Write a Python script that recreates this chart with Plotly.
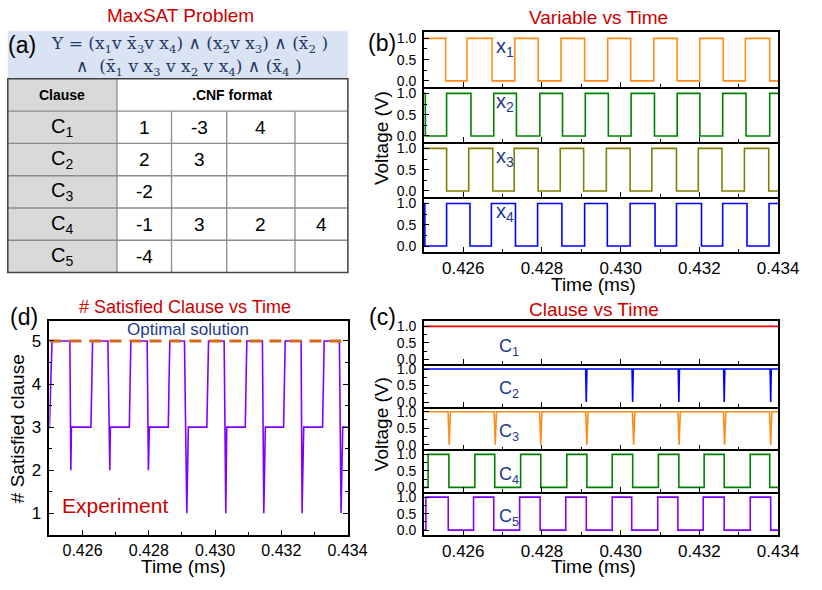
import plotly.graph_objects as go

W, H = 822, 590
T_RANGE = [0.425, 0.434]

# ---------------- data ----------------
# panel (b): variable waveforms, initial level + transition times (ms)
x1_start = 1
x1_edges = [0.425552, 0.426097, 0.426733, 0.427309, 0.427903, 0.428483, 0.429084, 0.429671,
            0.430255, 0.430842, 0.431436, 0.432012, 0.432607, 0.433168, 0.433787]
x2_start = 1
x2_edges = [0.425037, 0.425577, 0.426196, 0.426775, 0.427351, 0.427946, 0.428522, 0.429101,
            0.429686, 0.430265, 0.430859, 0.431436, 0.432012, 0.432592, 0.433186, 0.433787]
x3_start = 1
x3_edges = [0.425577, 0.426139, 0.426750, 0.427295, 0.427903, 0.428465, 0.429059, 0.429636,
            0.430240, 0.430792, 0.431418, 0.431973, 0.432574, 0.433144, 0.433762]
x4_start = 1
x4_edges = [0.425025, 0.425577, 0.426171, 0.426715, 0.427327, 0.427889, 0.428507, 0.429084,
            0.429661, 0.430240, 0.430874, 0.431418, 0.432054, 0.432592, 0.433210, 0.433770]

# panel (c): clause waveforms
c1_level = 1
c2_dips = [0.429126, 0.430304, 0.431478, 0.432631, 0.433812]
c3_dips = [0.425644, 0.426814, 0.427970, 0.429141, 0.430329, 0.431485, 0.432641, 0.433812]
c4_start = 0
c4_edges = [0.425106, 0.425636, 0.426295, 0.426800, 0.427458, 0.427970, 0.428631, 0.429141,
            0.429785, 0.430305, 0.430958, 0.431478, 0.432121, 0.432631, 0.433292, 0.433787]
c5_start = 0
c5_edges = [0.425050, 0.425619, 0.426262, 0.426775, 0.427433, 0.427953, 0.428606, 0.429126,
            0.429785, 0.430280, 0.430941, 0.431453, 0.432097, 0.432631, 0.433292, 0.433812]

# panel (d): number of satisfied clauses
t_sat = [0.42500, 0.42504, 0.42508,
         0.425618, 0.425647, 0.425665, 0.426253, 0.426280, 0.426303,
         0.426765, 0.426824, 0.426841, 0.427412, 0.427435, 0.427459,
         0.427950, 0.427988, 0.428018, 0.428588, 0.428610, 0.428635,
         0.429076, 0.429147, 0.429194, 0.429753, 0.429778, 0.429803,
         0.430274, 0.430324, 0.430353, 0.430912, 0.430935, 0.430959,
         0.431429, 0.431471, 0.431518, 0.432068, 0.432093, 0.432118,
         0.432597, 0.432626, 0.432676, 0.433244, 0.433270, 0.433294,
         0.433753, 0.433803, 0.433853, 0.434000]
n_sat = [3, 4, 5,
         5, 2, 3, 3, 4, 5,
         5, 2, 3, 3, 4, 5,
         5, 2, 3, 3, 4, 5,
         5, 1, 3, 3, 4, 5,
         5, 1, 3, 3, 4, 5,
         5, 1, 3, 3, 4, 5,
         5, 1, 3, 3, 4, 5,
         5, 1, 3, 3]
optimal_value = 5

# panel (a): table
clause_ids = [1, 2, 3, 4, 5]
cnf_rows = [[1, -3, 4], [2, 3], [-2], [-1, 3, 2, 4], [-4]]
table_headers = ["Clause", ".CNF format"]

x_ticks = [0.426, 0.428, 0.430, 0.432, 0.434]
x_ticktext = ["0.426", "0.428", "0.430", "0.432", "0.434"]
v_ticks = [0.0, 0.5, 1.0]
v_ticktext = ["0.0", "0.5", "1.0"]
n_ticks = [1, 2, 3, 4, 5]

var_names = ["x<sub>1</sub>", "x<sub>2</sub>", "x<sub>3</sub>", "x<sub>4</sub>"]
clause_names = ["C<sub>%d</sub>" % i for i in clause_ids]

# ---------------- helpers ----------------
def PX(x):
    return x / W

def PY(y):
    return 1 - y / H

def steps(start, edges):
    xs, ys, lvl = [T_RANGE[0]], [start], start
    for e in edges:
        lvl = 1 - lvl
        xs.append(e)
        ys.append(lvl)
    xs.append(T_RANGE[1])
    ys.append(lvl)
    return xs, ys

def dips(times, hw):
    xs, ys = [T_RANGE[0]], [1]
    for d in times:
        xs += [d - hw, d, d + hw]
        ys += [1, 0, 1]
    xs.append(T_RANGE[1])
    ys.append(1)
    return xs, ys

FONT = "Liberation Sans, Arial, sans-serif"
RED = "#cc0000"
NAVY = "#1f3a8f"

fig = go.Figure()
layout = {}
annotations = []
shapes = []

common = dict(showline=True, linecolor="black", linewidth=1.5,
              ticks="inside", tickcolor="black", tickwidth=1.2, zeroline=False,
              showgrid=False, fixedrange=True)

def add_panel(n, xdom, ydom, show_xlabels, yrange, ytv, ytt, xfs, yfs, xmirror=True,
              ymirror=True, yminor=0.25):
    k = "" if n == 1 else str(n)
    layout["xaxis" + k] = dict(common, domain=xdom, anchor="y" + k, range=T_RANGE,
                               tickvals=x_ticks, ticktext=x_ticktext, ticklen=5,
                               showticklabels=show_xlabels, mirror=xmirror,
                               tickfont=dict(family=FONT, size=xfs, color="black"),
                               minor=dict(ticks="inside", ticklen=3, dtick=0.001, tick0=0.425,
                                          tickcolor="black"))
    layout["yaxis" + k] = dict(common, domain=ydom, anchor="x" + k, range=yrange,
                               tickvals=ytv, ticktext=ytt, ticklen=5, mirror=ymirror,
                               ticklabelstandoff=3,
                               tickfont=dict(family=FONT, size=yfs, color="black"),
                               minor=dict(ticks="inside", ticklen=3, dtick=yminor, tick0=0,
                                          tickcolor="black"))
    return ("x" + k, "y" + k)

# ---- panel (b) ----
bx = [PX(435), PX(798.5)]
b_top, b_h = 29.0, 55.6
b_series = [(x1_start, x1_edges, "#ff8c1a"), (x2_start, x2_edges, "#008000"),
            (x3_start, x3_edges, "#808000"), (x4_start, x4_edges, "#0000ff")]
for i, (st, ed, col) in enumerate(b_series):
    top = b_top + i * b_h
    xa, ya = add_panel(i + 1, bx, [PY(top + b_h), PY(top)], i == 3, [-0.137, 1.156],
                       v_ticks, v_ticktext, 17, 14, xmirror=(i == 0))
    xs, ys = steps(st, ed)
    fig.add_trace(go.Scatter(x=xs, y=ys, mode="lines", line=dict(color=col, width=1.6, shape="hv"),
                             xaxis=xa, yaxis=ya, showlegend=False, hoverinfo="skip"))
    annotations.append(dict(text=var_names[i], x=PX(518), y=PY(top + 16), xref="paper", yref="paper",
                            xanchor="center", yanchor="middle",
                            showarrow=False, font=dict(family=FONT, size=20, color=NAVY)))

# ---- panel (c) ----
c_top, c_h = 321.7, 43.12
c_traces = []
c_traces.append(([T_RANGE[0], T_RANGE[1]], [c1_level, c1_level], "#ff0000", "linear"))
xs, ys = dips(c2_dips, 0.000015)
c_traces.append((xs, ys, "#0000ff", "linear"))
xs, ys = dips(c3_dips, 0.00003)
c_traces.append((xs, ys, "#ff8c1a", "linear"))
xs, ys = steps(c4_start, c4_edges)
c_traces.append((xs, ys, "#008000", "hv"))
xs, ys = steps(c5_start, c5_edges)
c_traces.append((xs, ys, "#8000ff", "hv"))
for i, (xs, ys, col, shp) in enumerate(c_traces):
    top = c_top + i * c_h
    xa, ya = add_panel(5 + i, bx, [PY(top + c_h), PY(top)], i == 4, [-0.144, 1.15],
                       v_ticks, v_ticktext, 17, 14, xmirror=(i == 0))
    fig.add_trace(go.Scatter(x=xs, y=ys, mode="lines", line=dict(color=col, width=1.6, shape=shp),
                             xaxis=xa, yaxis=ya, showlegend=False, hoverinfo="skip"))
    annotations.append(dict(text=clause_names[i], x=PX(522), y=PY(top + 26), xref="paper", yref="paper",
                            xanchor="center", yanchor="middle",
                            showarrow=False, font=dict(family=FONT, size=18, color=NAVY)))

# ---- panel (d) ----
xa, ya = add_panel(10, [PX(50.7), PX(356.7)], [PY(537.3), PY(321.0)], True, [0.5, 5.47],
                   n_ticks, [str(v) for v in n_ticks], 16, 17, ymirror="ticks", yminor=0.5)
fig.add_trace(go.Scatter(x=t_sat, y=n_sat, mode="lines", line=dict(color="#8000ff", width=1.6),
                         xaxis=xa, yaxis=ya, showlegend=False, hoverinfo="skip"))
fig.add_trace(go.Scatter(x=T_RANGE, y=[optimal_value, optimal_value], mode="lines",
                         line=dict(color="#d2691e", width=3, dash="12px,8px"),
                         xaxis=xa, yaxis=ya, showlegend=False, hoverinfo="skip"))

# ---- titles and labels ----
def txt(t, x, y, size, color="black", family=FONT, angle=0):
    annotations.append(dict(text=t, x=PX(x), y=PY(y), xref="paper", yref="paper", showarrow=False,
                            textangle=angle, xanchor="center", yanchor="middle",
                            font=dict(family=family, size=size, color=color)))

txt("MaxSAT Problem", 185, 13, 19, RED)
txt("Variable vs Time", 614, 15, 19, RED)
txt("Clause vs Time", 610, 310, 19, RED)
txt("# Satisfied Clause vs Time", 190, 307, 18, RED)
txt("(a)", 23, 42, 23)
txt("(b)", 392, 40, 23)
txt("(c)", 393, 317, 23)
txt("(d)", 25, 317, 23)
txt("Voltage (V)", 391.5, 136, 19, angle=-90)
txt("Voltage (V)", 391.5, 425, 19, angle=-90)
txt("Time (ms)", 609, 284, 19)
txt("Time (ms)", 609, 569, 19)
txt("Time (ms)", 188, 569, 19)
txt("# Satisfied clause", 18, 430, 19, angle=-90)
txt("Optimal solution", 193, 330, 17, NAVY)
txt("Experiment", 118, 508, 21, RED)

# ---- panel (a): formula box ----
shapes.append(dict(type="rect", xref="paper", yref="paper", x0=PX(8), x1=PX(357), y0=PY(76), y1=PY(28),
                   fillcolor="#dae3f3", line=dict(width=0), layer="below"))
SERIF = "DejaVu Serif, Liberation Serif, serif"
FCOL = "#1f3864"
xb = "x\u0304"
line1 = ("Y = (x<sub>1</sub>v " + xb + "<sub>3</sub>v x<sub>4</sub>) \u2227 (x<sub>2</sub>v x<sub>3</sub>)"
         " \u2227 (" + xb + "<sub>2</sub> )")
line2 = ("\u2227  (" + xb + "<sub>1</sub> v x<sub>3</sub> v x<sub>2</sub> v x<sub>4</sub>) \u2227 ("
         + xb + "<sub>4</sub> )")
txt(line1, 194, 42, 17, FCOL, SERIF)
txt(line2, 194, 65, 17, FCOL, SERIF)

# ---- panel (a): table ----
col_x = [8, 120, 176, 232.7, 302.7, 357]
row_top = 76.5
head_h = 32.8
row_h = 32.6
row_y = [row_top, row_top + head_h] + [row_top + head_h + row_h * (i + 1) for i in range(len(clause_ids))]
tbl_bottom = row_y[-1]

shapes.append(dict(type="rect", xref="paper", yref="paper", x0=PX(col_x[0]), x1=PX(col_x[1]),
                   y0=PY(tbl_bottom), y1=PY(row_top), fillcolor="#d9d9d9", line=dict(width=0), layer="below"))
GRID = "#8c8c8c"
for yv in row_y[1:-1]:
    shapes.append(dict(type="line", xref="paper", yref="paper", x0=PX(col_x[0]), x1=PX(col_x[-1]),
                       y0=PY(yv), y1=PY(yv), line=dict(color=GRID, width=1.3)))
shapes.append(dict(type="line", xref="paper", yref="paper", x0=PX(col_x[1]), x1=PX(col_x[1]),
                   y0=PY(row_top), y1=PY(tbl_bottom), line=dict(color=GRID, width=1.3)))
for xv in col_x[2:-1]:
    shapes.append(dict(type="line", xref="paper", yref="paper", x0=PX(xv), x1=PX(xv),
                       y0=PY(row_y[1]), y1=PY(tbl_bottom), line=dict(color=GRID, width=1.3)))
shapes.append(dict(type="rect", xref="paper", yref="paper", x0=PX(col_x[0]), x1=PX(col_x[-1]),
                   y0=PY(tbl_bottom), y1=PY(row_top), line=dict(color="#404040", width=1.5)))

txt("<b>" + table_headers[0] + "</b>", (col_x[0] + col_x[1]) / 2, (row_y[0] + row_y[1]) / 2, 14)
txt("<b>" + table_headers[1] + "</b>", (col_x[1] + col_x[-1]) / 2, (row_y[0] + row_y[1]) / 2, 14)
for r, cid in enumerate(clause_ids):
    yc = (row_y[r + 1] + row_y[r + 2]) / 2
    txt(clause_names[r], (col_x[0] + col_x[1]) / 2, yc, 20)
    for c, val in enumerate(cnf_rows[r]):
        txt(str(val), (col_x[c + 1] + col_x[c + 2]) / 2, yc, 19)

fig.update_layout(width=W, height=H, margin=dict(l=0, r=0, t=0, b=0), paper_bgcolor="white",
                  plot_bgcolor="rgba(0,0,0,0)", showlegend=False, annotations=annotations,
                  shapes=shapes, font=dict(family=FONT, color="black"), **layout)

fig.write_html("out.html", config={"displayModeBar": False},
               post_script="document.body.style.margin='0px';document.body.style.padding='0px';")
